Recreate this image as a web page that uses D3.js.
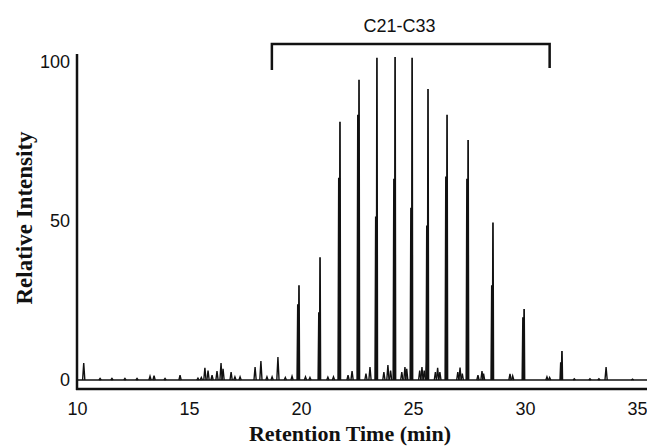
<!DOCTYPE html>
<html>
<head>
<meta charset="utf-8">
<script src="https://cdn.jsdelivr.net/npm/d3@7"></script>
<style>
  body { margin: 0; background: #fff; }
</style>
</head>
<body>
<svg class="chart"></svg>
<script>
// n-alkane peaks C21..C33 (retention time in min, relative intensity)
var alkaneTimes   = [19.91, 20.85, 21.74, 22.59, 23.39, 24.20, 24.96, 25.67, 26.52, 27.46, 28.57, 29.96, 31.65];
var alkaneHeights = [29.8, 38.6, 81.2, 94.4, 101.3, 101.6, 101.3, 91.5, 83.4, 75.5, 49.5, 22.3, 9.1];
// co-eluting shoulder on each alkane peak
var shoulderHeights = [23.8, 21.3, 63.6, 83.4, 51.4, 63.3, 54.2, 48.6, 64.0, 63.3, 29.8, 19.7, 5.6];

// minor peaks along the baseline
var minorTimes = [10.30, 11.03, 11.56, 12.14, 12.68, 13.26, 13.44, 13.93, 14.60, 15.40, 15.55,
  15.71, 15.85, 16.03, 16.25, 16.43, 16.52, 16.88, 17.05, 17.28, 17.95, 18.21, 18.48, 18.71,
  18.97, 19.30, 19.60, 20.20, 20.40, 21.20, 21.45, 22.10, 22.28, 22.90, 23.08, 23.70, 23.88,
  24.00, 24.50, 24.64, 24.72, 25.30, 25.40, 25.50, 25.62, 26.00, 26.10, 26.20, 27.00, 27.10,
  27.20, 27.90, 28.08, 28.15, 29.33, 29.45, 30.98, 31.10, 32.20, 32.90, 33.30, 33.62, 34.80];
var minorHeights = [5.3, 0.5, 0.5, 0.5, 0.5, 1.2, 1.4, 0.5, 1.5, 0.6, 0.8,
  3.8, 3.0, 1.5, 2.8, 5.3, 3.5, 2.5, 1.0, 1.0, 4.1, 6.0, 1.0, 1.0,
  7.2, 0.8, 1.2, 1.0, 0.8, 0.9, 1.0, 1.5, 2.8, 2.0, 4.1, 2.5, 4.7,
  3.0, 2.5, 4.1, 3.5, 3.0, 4.1, 3.0, 6.9, 2.5, 3.8, 2.5, 2.5, 3.9,
  2.0, 1.5, 2.8, 2.0, 1.9, 1.3, 1.0, 0.8, 0.4, 0.4, 0.4, 4.1, 0.3];

var xTicks = [10, 15, 20, 25, 30, 35];
var yTicks = [0, 50, 100];
var bracketLabel = "C21-C33";
var bracketTimes = [18.7, 31.1];

var width = 647, height = 448;

var x = d3.scaleLinear().domain([10, 35]).range([77, 637]);
var y = d3.scaleLinear().domain([0, 100]).range([380, 62]);

var svg = d3.select(".chart")
  .attr("width", width)
  .attr("height", height)
  .style("font-family", "'Liberation Sans', Arial, sans-serif");

var line = d3.line()
  .x(function(d) { return x(d[0]); })
  .y(function(d) { return y(d[1]); });

function spike(t, h, w) {
  return [[t - w, 0], [t, h], [t + w, 0]];
}

// baseline
svg.append("path")
  .attr("d", line([[x.invert(77), 0], [x.invert(width), 0]]))
  .attr("fill", "none")
  .attr("stroke", "#111")
  .attr("stroke-width", 1.5);

// minor peaks
svg.append("g").selectAll("path")
  .data(d3.range(minorTimes.length))
  .join("path")
  .attr("d", function(i) { return line(spike(minorTimes[i], minorHeights[i], 0.05)); })
  .attr("fill", "none")
  .attr("stroke", "#111")
  .attr("stroke-width", 1.4);

// shoulders
svg.append("g").selectAll("path")
  .data(d3.range(alkaneTimes.length))
  .join("path")
  .attr("d", function(i) { return line(spike(alkaneTimes[i] - 0.04, shoulderHeights[i], 0.03)); })
  .attr("fill", "none")
  .attr("stroke", "#111")
  .attr("stroke-width", 2.2);

// alkane peaks
svg.append("g").selectAll("path")
  .data(d3.range(alkaneTimes.length))
  .join("path")
  .attr("d", function(i) { return line(spike(alkaneTimes[i], alkaneHeights[i], 0.02)); })
  .attr("fill", "none")
  .attr("stroke", "#111")
  .attr("stroke-width", 1.7);

// axis lines
svg.append("line")
  .attr("x1", 77).attr("x2", 77)
  .attr("y1", 54).attr("y2", 390)
  .attr("stroke", "#111").attr("stroke-width", 2.5);
svg.append("line")
  .attr("x1", 76).attr("x2", width)
  .attr("y1", 389).attr("y2", 389)
  .attr("stroke", "#111").attr("stroke-width", 2.5);

// tick labels
svg.append("g")
  .attr("transform", "translate(0,389)")
  .call(d3.axisBottom(x).tickValues(xTicks).tickSize(0).tickPadding(13))
  .call(function(g) { g.select(".domain").remove(); })
  .selectAll("text")
  .attr("font-size", 18)
  .attr("font-family", "'Liberation Sans', Arial, sans-serif")
  .attr("fill", "#111");

svg.append("g")
  .attr("transform", "translate(77,0)")
  .call(d3.axisLeft(y).tickValues(yTicks).tickSize(0).tickPadding(7))
  .call(function(g) { g.select(".domain").remove(); })
  .selectAll("text")
  .attr("font-size", 18)
  .attr("font-family", "'Liberation Sans', Arial, sans-serif")
  .attr("fill", "#111");

// axis titles
svg.append("text")
  .attr("x", 350)
  .attr("y", 441)
  .attr("text-anchor", "middle")
  .style("font", "bold 22px 'Liberation Serif', 'Times New Roman', serif")
  .attr("fill", "#111")
  .text("Retention Time (min)");

svg.append("text")
  .attr("transform", "translate(32,218) rotate(-90)")
  .attr("text-anchor", "middle")
  .style("font", "bold 23px 'Liberation Serif', 'Times New Roman', serif")
  .attr("fill", "#111")
  .text("Relative Intensity");

// bracket over the alkane range
var bx0 = x(bracketTimes[0]), bx1 = x(bracketTimes[1]);
svg.append("path")
  .attr("d", "M" + bx0 + ",70V44H" + bx1 + "V68")
  .attr("fill", "none")
  .attr("stroke", "#111")
  .attr("stroke-width", 2.5);

svg.append("text")
  .attr("x", x(24.4))
  .attr("y", 32)
  .attr("text-anchor", "middle")
  .attr("font-size", 18)
  .attr("fill", "#111")
  .text(bracketLabel);
</script>
</body>
</html>
